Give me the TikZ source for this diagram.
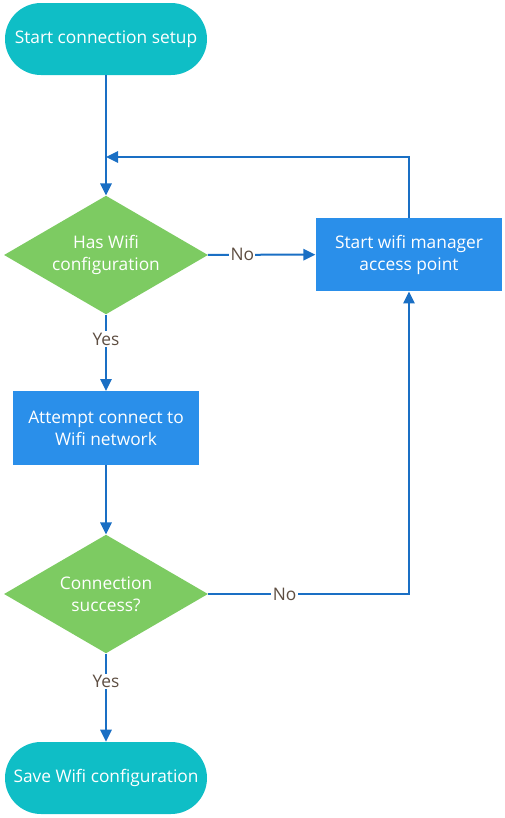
\documentclass[tikz,border=0pt]{standalone}
\usepackage{fontspec}
\setmainfont{Open Sans}
\usetikzlibrary{arrows.meta,shapes.geometric,positioning}
\definecolor{termcol}{HTML}{0FBEC6}
\definecolor{deccol}{HTML}{7DCB62}
\definecolor{boxcol}{HTML}{2A8FEA}
\definecolor{linecol}{HTML}{1A6FC4}
\definecolor{labcol}{HTML}{5E4E42}
\tikzset{>={Triangle[length=9pt,width=8.5pt]},
  terminal/.style={draw=none,fill=termcol,text=white,rounded corners=27pt,
    minimum width=151.5pt,minimum height=54pt,inner sep=0pt,
    font=\fontsize{13}{16.5}\selectfont},
  decision/.style={diamond,aspect=1.75,draw=none,fill=deccol,text=white,
    minimum width=153pt,minimum height=89pt,inner sep=0pt,
    align=center,font=\fontsize{13}{16.5}\selectfont},
  process/.style={draw=none,fill=boxcol,text=white,
    minimum width=140pt,minimum height=55pt,inner sep=0pt,
    align=center,font=\fontsize{13}{16.5}\selectfont},
  flow/.style={draw=linecol,line width=1.5pt},
  answer/.style={fill=white,text=labcol,inner sep=1pt,
    font=\fontsize{13}{16.5}\selectfont}}
\begin{document}
\begin{tikzpicture}[x=0.75pt,y=-0.75pt]
  \useasboundingbox (0,0) rectangle (505,818);

  \node [terminal] (start) at (106,39) {Start connection setup};
  \node [decision] (hascfg) at (106,255) {Has Wifi\\configuration};
  \node [process] (apmode) at (409,254.5) {Start wifi manager\\access point};
  \node [process] (attempt) at (106,428) {Attempt connect to\\Wifi network};
  \node [decision] (success) at (106,594) {Connection\\success?};
  \node [terminal] (save) at (106,778) {Save Wifi configuration};

  \coordinate (merge) at (106,157);
  \coordinate (corner) at (409,594);

  % main line
  \draw [flow,->] (start) -- (hascfg);
  \draw [flow,->] (hascfg) -- node [answer,pos=0.32] {Yes} (attempt);
  \draw [flow,->] (attempt) -- (success);
  \draw [flow,->] (success) -- node [answer,pos=0.32] {Yes} (save);

  % no branches
  \draw [flow,->] (hascfg) -- node [answer,pos=0.32] {No} (apmode);
  \draw [flow,->] (success.east) -- node [answer,pos=0.38] {No} (corner) -- (apmode.south);
  \draw [flow,->] (apmode.north) |- (merge);
\end{tikzpicture}
\end{document}
